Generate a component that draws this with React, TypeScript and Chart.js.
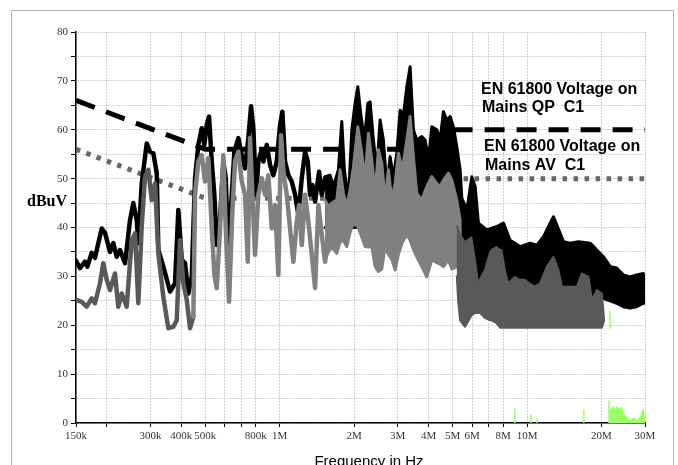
import React, { useEffect, useRef } from 'react';
import { Chart, registerables } from 'chart.js';

Chart.register(...registerables);

// ---- axis ticks ----
const xTickValuesK = [150, 200, 300, 400, 500, 600, 700, 800, 1000, 2000, 3000, 4000, 5000, 6000, 7000, 8000, 10000, 20000, 30000];
const xTickLabels = ['150k', '', '300k', '400k', '500k', '', '', '800k', '1M', '2M', '3M', '4M', '5M', '6M', '', '8M', '10M', '20M', '30M'];

// ---- limit lines (EN 61800 C1) ----
const limitFreqK = [150, 500, 5000, 5000, 5000, 30000];
const qpLimit = [66, 56, 56, null, 60, 60];
const avLimit = [56, 46, 46, null, 50, 50];

// ---- black trace (peak) 150k..1.5M ----
const blackFreqK = [150, 155.7, 163.1, 166.7, 173.6, 179.0, 190.6, 196.5, 205.9, 212.3, 219.1, 226.0, 236.8, 248.0, 255.8, 264.0, 268.0, 276.6, 289.8, 298.8, 308.2, 318.1, 322.9, 338.3, 360.0, 377.2, 389.0, 401.5, 414.0, 427.0, 440.7, 454.5, 468.7, 483.7, 495.6, 506.8, 517.8, 531.0, 544.0, 556.3, 573.6, 591.5, 604.9, 619.7, 639.7, 655.4, 680.2, 702.1, 724.0, 746.6, 765.7, 782.2, 802.2, 819.5, 840.4, 858.6, 886.2, 913.9, 942.4, 972.7, 1003.1, 1024.8, 1050.9, 1083.7, 1118.6, 1153.5, 1189.5, 1227.8, 1266.1, 1298.4, 1326.5, 1355.2, 1389.7, 1442.5, 1479.2, 1525.4];
const blackLevel = [33.2, 31.7, 33, 32, 34.8, 33.8, 39.8, 38.9, 35, 36.8, 34, 35.4, 32.7, 41.5, 45, 41.5, 36.8, 49, 57.2, 55.5, 55.2, 51.1, 35.4, 32, 26.9, 28.6, 43.6, 33.4, 32.7, 26.5, 29.9, 50.1, 56.9, 60.3, 56.9, 61, 62.7, 53.5, 46.7, 36.4, 41.9, 53.5, 50.1, 35, 46.7, 55.5, 58.3, 54.8, 52.1, 58.3, 64.8, 60.3, 46.7, 53.5, 55.5, 53.5, 56.9, 52.8, 50.7, 53.5, 61, 63.7, 53.5, 50.7, 49.4, 46.7, 42.6, 50.1, 55.5, 53.5, 46.7, 48.7, 45.3, 51.4, 46.7, 50.1];

// ---- black dense band 1.5M..30M (upper / lower envelope) ----
const blackBandFreqK = [1525.4, 1598.1, 1648.0, 1726.5, 1782.1, 1825.8, 1895.1, 1956.1, 2017.1, 2068.5, 2133.1, 2200.1, 2271.0, 2319.6, 2392.0, 2469.0, 2546.1, 2625.5, 2710.0, 2794.6, 2881.9, 2974.6, 3067.5, 3163.1, 3264.9, 3366.9, 3472.0, 3583.7, 3754.5, 3871.8, 3992.6, 4121.1, 4317.6, 4452.4, 4591.4, 4739.1, 4887.1, 5039.7, 5201.9, 5364, 5450, 5710, 5982, 6169, 6361, 6879, 7550, 8029, 8546, 9380, 10296, 10959, 11654, 12210, 12792, 13204, 13616, 14041, 14945, 16146, 18006, 19165, 20380, 21036, 21693, 23047, 24508, 26087, 27767, 29527, 30000];
const blackBandTop = [50.4, 50.7, 48.4, 51.8, 61.7, 51.8, 45.6, 60, 65.4, 68.8, 62.7, 57.9, 65.4, 65.7, 57.9, 51.8, 62, 57.9, 48.4, 54.5, 50.4, 55.2, 64, 63, 68.8, 72.9, 60, 57.9, 58.6, 57.9, 53.8, 60.6, 60, 57.9, 63.7, 62, 62.7, 60.6, 56.5, 51.8, 46, 43.6, 50.4, 48.4, 40.9, 39.5, 40.2, 40.9, 37.4, 36.1, 36.8, 36.4, 38.1, 40.2, 42.2, 40.5, 38.8, 37.1, 36.8, 37.1, 36.8, 35.4, 34, 33, 32, 31.7, 30.3, 29.9, 30.3, 30.6, 29];
const blackBandBottom = [40, 40, 40, 40, 40, 40, 40, 40, 40, 40, 40, 40, 40, 40, 40, 40, 40, 40, 40, 40, 40, 40, 40, 40, 40, 40, 40, 40, 40, 40, 40, 40, 40, 40, 40, 40, 40, 40, 38, 32, 28, 27, 27, 27, 27, 27, 27, 27, 27, 27, 27, 27, 27, 27, 27, 27, 27, 27, 27, 27, 26.5, 26, 25.5, 25.2, 25, 24.5, 23.8, 23.5, 23.8, 24.5, 24.5];

// ---- gray trace (average) 450k..1.6M ----
const grayFreqK = [447.3, 454.5, 468.7, 483.7, 498.8, 514.4, 531.0, 544.0, 556.3, 573.6, 591.5, 604.9, 623.8, 643.3, 659.6, 680.2, 702.1, 724.0, 742.5, 758.6, 775.0, 794.7, 819.5, 845.9, 872.3, 899.5, 928.5, 957.5, 987.3, 1012.5, 1034.4, 1067.7, 1101.0, 1135.4, 1171.9, 1197.3, 1227.8, 1266.1, 1305.6, 1347.6, 1389.7, 1433.1, 1479.2, 1525.4, 1573.0];
const grayLevel = [21.7, 46.7, 53.5, 54.8, 49.4, 54.2, 39.8, 30.3, 27.6, 39.8, 54.8, 39.8, 24.8, 43.2, 53.5, 55.5, 49.4, 46.7, 33, 58.3, 46.7, 34.4, 46.7, 50.1, 46.7, 50.7, 39.8, 44.6, 30.3, 58.9, 51.4, 46.7, 39.8, 33, 41.2, 44.6, 36.4, 46.7, 41.2, 34.4, 27.6, 44.6, 38.5, 33, 38.5];

// ---- gray dense band 1.5M..5.4M (upper / lower envelope) ----
const grayBandFreqK = [1525.4, 1573, 1623.6, 1701, 1754.1, 1808.9, 1867, 1925.3, 1985.4, 2068.5, 2147, 2214.5, 2283.7, 2356.6, 2430.2, 2506.1, 2586.7, 2667.4, 2750.7, 2839.2, 2927.8, 3019.2, 3133.8, 3264.9, 3366.9, 3472, 3583.7, 3754.5, 3933.6, 4121.1, 4317.6, 4452.4, 4591.4, 4810.3, 4965.1, 5201.9, 5364];
const grayBandTop = [45.6, 44.3, 45, 45.6, 51.8, 47, 44.3, 47.7, 52.4, 60.6, 55.2, 49.7, 59.3, 53.8, 47, 55.9, 53.1, 45.6, 51.8, 45.6, 49, 55.2, 51.8, 57.9, 62.7, 54.5, 47, 45.6, 48.4, 50.4, 49, 48.4, 49.7, 51.1, 49.7, 45.6, 41.5];
const grayBandBottom = [33.4, 35, 36, 34.7, 37, 37.4, 36.1, 39, 40.9, 40.2, 38, 36.1, 36, 36.1, 32, 31, 31.5, 36.1, 34.5, 33.5, 31.3, 34.5, 37, 38.5, 37.4, 35.5, 34, 32, 29.9, 33.4, 32.8, 32.5, 32, 33.4, 31.5, 32, 35];

// ---- dark gray trace 150k..450k ----
const darkFreqK = [150, 158.2, 165.7, 173.6, 179.0, 187.6, 193.4, 199.7, 205.9, 215.7, 222.4, 229.6, 240.5, 252.0, 259.9, 268.0, 276.6, 285.2, 294.1, 303.6, 313.1, 322.9, 338.3, 354.4, 371.3, 383.2, 395.2, 407.5, 420.6, 433.8, 447.3];
const darkLevel = [25.2, 24.8, 23.8, 25.5, 24.5, 28.6, 32.7, 29.3, 27.2, 30.6, 23.8, 26.5, 23.8, 37.4, 38.8, 24.5, 40.2, 50.4, 51.8, 45.6, 49, 34.7, 25.8, 19.4, 19.7, 21, 37.4, 28.6, 25.2, 19.4, 21.7];

// ---- dark gray dense band 5.2M..20.5M (upper / lower envelope) ----
const darkBandFreqK = [5202, 5265, 5364, 5604, 5620, 5960, 6169, 6343, 6463, 6752, 7094, 7180, 7501, 7786, 7881, 8157, 8388, 8929, 9354, 9800, 10268, 10757, 11301, 12029, 12792, 13402, 13833, 14710, 15908, 16666, 17723, 18293, 19165, 20079, 20513];
const darkBandTop = [40.2, 39.5, 38.5, 37, 37, 38, 33, 28.6, 29.5, 31.3, 35, 35.4, 36, 35.4, 35.4, 31, 28.6, 29.9, 29.3, 29.3, 28.5, 27.9, 28.6, 32, 34, 31.3, 27.9, 27.9, 27.9, 30.6, 29.9, 25.2, 27.2, 26.5, 21];
const darkBandBottom = [30, 25, 21, 19.7, 19.7, 22, 22.5, 22.5, 22.5, 21.5, 21, 21, 20.5, 19.5, 19.5, 19.5, 19.5, 19.5, 19.5, 19.5, 19.5, 19.5, 19.5, 19.5, 19.5, 19.5, 19.5, 19.5, 19.5, 19.5, 19.5, 19.5, 19.5, 19.5, 21];

// ---- green trace ----
const greenSpikeFreqK = [8929, 10364, 10990, 16979, 21693];
const greenSpikeLow = [0, 0, 0, 0, 19.4];
const greenSpikeHigh = [2.9, 1.8, 0.8, 2.6, 22.8];
const greenFreqK = [21352, 21430, 21700, 21896, 22308, 22727, 23154, 23590, 24034, 24486, 24900, 25416, 25894, 26381, 27129, 27899, 28689, 29527, 30000];
const greenLevel = [0, 4.6, 2.4, 2.9, 3.3, 2.7, 3.4, 2.8, 3.3, 2.2, 1.6, 1.0, 0.4, 0.8, 1.0, 0.5, 1.2, 2.9, 0.8];

const pts = (f: number[], v: (number | null)[]) => f.map((x, i) => ({ x: x * 1000, y: v[i] }));
// closed outline of a band: upper envelope forward, lower envelope back
const band = (f: number[], top: number[], bottom: number[]) => [
  ...f.map((x, i) => ({ x: x * 1000, y: top[i] })),
  ...f.map((x, i) => ({ x: x * 1000, y: bottom[i] })).reverse(),
];

const serif = "'Liberation Serif', 'Times New Roman', serif";
const sans = "'Liberation Sans', Arial, sans-serif";

const decorPlugin = {
  id: 'decor',
  beforeDraw(chart: any) {
    const { ctx, width, height } = chart;
    ctx.save();
    ctx.fillStyle = '#ffffff';
    ctx.fillRect(0, 0, width, height);
    ctx.strokeStyle = '#b4b4b4';
    ctx.lineWidth = 1;
    ctx.strokeRect(11.5, 10.5, 662, 500);
    ctx.restore();
  },
  afterDraw(chart: any) {
    const { ctx } = chart;
    ctx.save();
    ctx.fillStyle = '#000';
    ctx.textAlign = 'left';
    ctx.textBaseline = 'alphabetic';
    ctx.font = `bold 16px ${serif}`;
    ctx.fillText('dBuV', 27, 206);
    ctx.font = `bold 16px ${sans}`;
    ctx.fillText('EN 61800 Voltage on', 481, 94);
    ctx.fillText('Mains QP  C1', 482, 112);
    ctx.fillText('EN 61800 Voltage on', 484, 151);
    ctx.fillText('Mains AV  C1', 485, 170);
    ctx.font = `15px ${sans}`;
    ctx.textAlign = 'center';
    ctx.fillText('Frequency in Hz', 369, 466);
    ctx.restore();
  },
};

export default function App() {
  const ref = useRef<HTMLCanvasElement | null>(null);
  useEffect(() => {
    if (!ref.current) return;
    const line = { pointRadius: 0, tension: 0, borderJoinStyle: 'round', borderCapStyle: 'round' };
    const greenSpikes: any[] = [];
    greenSpikeFreqK.forEach((f, i) => {
      greenSpikes.push({ x: f * 1000, y: greenSpikeLow[i] }, { x: f * 1000, y: greenSpikeHigh[i] }, { x: f * 1000, y: null });
    });
    const chart = new Chart(ref.current, {
      type: 'line',
      data: {
        datasets: [
          { ...line, data: pts(greenFreqK, greenLevel), borderColor: '#99ff66', backgroundColor: '#99ff66', borderWidth: 1, fill: 'origin', order: 0 },
          { ...line, data: greenSpikes, borderColor: '#99ff66', borderWidth: 1.5, fill: false, order: 0 },
          { ...line, data: band(darkBandFreqK, darkBandTop, darkBandBottom), borderColor: '#595959', backgroundColor: '#595959', borderWidth: 2, fill: 'shape', order: 1 },
          { ...line, data: band(grayBandFreqK, grayBandTop, grayBandBottom), borderColor: '#808080', backgroundColor: '#808080', borderWidth: 3, fill: 'shape', order: 2 },
          { ...line, data: pts(grayFreqK, grayLevel), borderColor: '#808080', borderWidth: 4.5, fill: false, order: 2 },
          { ...line, data: pts(darkFreqK, darkLevel), borderColor: '#595959', borderWidth: 4.5, fill: false, order: 2 },
          { ...line, data: pts(blackFreqK, blackLevel), borderColor: '#000000', borderWidth: 4.5, fill: false, order: 3 },
          { ...line, data: band(blackBandFreqK, blackBandTop, blackBandBottom), borderColor: '#000000', backgroundColor: '#000000', borderWidth: 3, fill: 'shape', order: 4 },
          { pointRadius: 0, tension: 0, data: pts(limitFreqK, qpLimit), borderColor: '#000000', borderWidth: 5, borderDash: [20, 12], borderCapStyle: 'butt', fill: false, spanGaps: false, order: 5 },
          { pointRadius: 0, tension: 0, data: pts(limitFreqK, avLimit), borderColor: '#666666', borderWidth: 5, borderDash: [4.5, 6.5], borderCapStyle: 'butt', fill: false, spanGaps: false, order: 5 },
        ] as any,
      },
      options: {
        animation: false,
        responsive: false,
        devicePixelRatio: 1,
        events: [],
        layout: { padding: { left: 0, right: 33, top: 32, bottom: 0 } },
        plugins: { legend: { display: false }, tooltip: { enabled: false } },
        scales: {
          x: {
            type: 'logarithmic',
            min: 150000,
            max: 30000000,
            afterBuildTicks: (scale: any) => {
              scale.ticks = xTickValuesK.map((v) => ({ value: v * 1000 }));
            },
            afterFit: (scale: any) => {
              scale.height = 42;
              scale.paddingLeft = 0;
              scale.paddingRight = 0;
            },
            ticks: {
              autoSkip: false,
              maxRotation: 0,
              minRotation: 0,
              padding: 3,
              color: '#333',
              font: { family: serif, size: 11 },
              callback: (_v: any, i: number) => xTickLabels[i],
            },
            grid: { color: '#d0d0d0', tickColor: '#000', tickLength: 4, lineWidth: 1 },
            border: { color: '#000', width: 1.5, dash: [2, 1] },
          },
          y: {
            type: 'linear',
            min: 0,
            max: 80,
            afterFit: (scale: any) => {
              scale.width = 76;
              scale.paddingTop = 0;
              scale.paddingBottom = 0;
            },
            ticks: {
              stepSize: 5,
              padding: 3,
              color: '#333',
              font: { family: serif, size: 11 },
              callback: (v: any) => (Number(v) % 10 === 0 ? String(v) : ''),
            },
            grid: { color: '#d0d0d0', tickColor: '#000', tickLength: 5, lineWidth: 1 },
            border: { color: '#000', width: 1.5, dash: [2, 1] },
          },
        },
      } as any,
      plugins: [decorPlugin],
    });
    return () => chart.destroy();
  }, []);
  return (
    <div style={{ position: 'fixed', left: 0, top: 0, width: 678, height: 465 }}>
      <canvas ref={ref} width={678} height={465} style={{ width: 678, height: 465, display: 'block' }} />
    </div>
  );
}
